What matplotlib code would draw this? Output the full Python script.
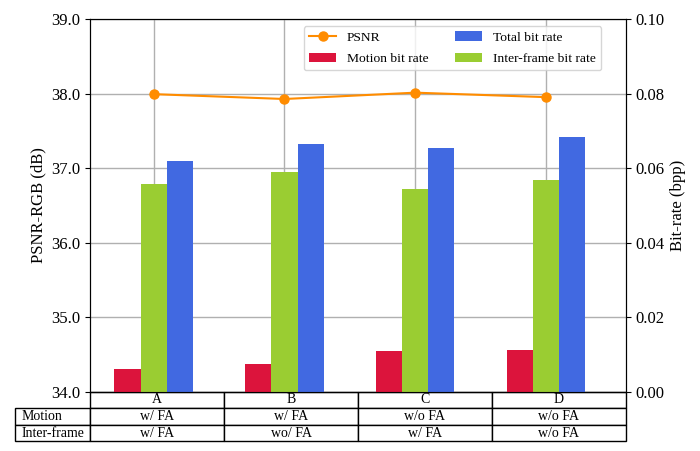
#!/usr/bin/env python3

import matplotlib
matplotlib.use("Agg")
import matplotlib.pyplot as plt
import numpy as np

plt.rcParams['font.family'] = ['Liberation Serif', 'DejaVu Serif']

# data
methods = ['A', 'B', 'C', 'D']
psnr = [37.995, 37.93, 38.015, 37.955]
motion_rate = [0.0061, 0.0075, 0.0110, 0.0113]
inter_rate = [0.0558, 0.0590, 0.0544, 0.0568]
total_rate = [0.0619, 0.0665, 0.0654, 0.0684]

row_names = ['Motion', 'Inter-frame']
motion_fa = ['w/ FA', 'w/ FA', 'w/o FA', 'w/o FA']
inter_fa = ['w/ FA', 'wo/ FA', 'w/ FA', 'w/o FA']

fig = plt.figure(figsize=(7, 4.51), dpi=100)
ax = fig.add_axes([0.129, 0.1315, 0.7649, 0.8257])
ax2 = ax.twinx()

x = np.arange(len(methods))
w = 0.2

line, = ax.plot(x, psnr, color='darkorange', marker='o', markersize=6.5,
                linewidth=1.5, label='PSNR')
b1 = ax2.bar(x - w, motion_rate, w, color='crimson', label='Motion bit rate')
b2 = ax2.bar(x, inter_rate, w, color='yellowgreen', label='Inter-frame bit rate')
b3 = ax2.bar(x + w, total_rate, w, color='royalblue', label='Total bit rate')

ax.set_xlim(-0.485, 3.61)
ax.set_ylim(34.0, 39.0)
ax2.set_ylim(0.0, 0.10)
ax.set_yticks(np.arange(34, 39.5, 1.0))
ax2.set_yticks(np.arange(0, 0.101, 0.02))
ax.yaxis.set_major_formatter(matplotlib.ticker.FormatStrFormatter('%.1f'))
ax2.yaxis.set_major_formatter(matplotlib.ticker.FormatStrFormatter('%.2f'))
ax.tick_params(axis='y', labelsize=12)
ax2.tick_params(axis='y', labelsize=12)
ax.set_xticks(x)
ax.set_xticklabels([])
ax.tick_params(axis='x', length=0)
ax.grid(True, color='#b0b0b0', linewidth=1)
ax.set_axisbelow(True)

ax.set_ylabel('PSNR-RGB (dB)', fontsize=12)
ax2.set_ylabel('Bit-rate (bpp)', fontsize=12)

ax2.legend([line, b1, b3, b2],
           ['PSNR', 'Motion bit rate', 'Total bit rate', 'Inter-frame bit rate'],
           ncol=2, loc='upper right', bbox_to_anchor=(0.967, 1.0),
           fontsize=9.7, labelspacing=0.65)

# table under the axes
cells = [[''] + methods,
         [row_names[0]] + motion_fa,
         [row_names[1]] + inter_fa]
lab_w = 0.1406
tab = ax.table(cellText=cells, colWidths=[lab_w, 0.25, 0.25, 0.25, 0.25],
               cellLoc='center', bbox=[-lab_w, -0.1334, 1 + lab_w, 0.1334])
tab.auto_set_font_size(False)
tab.set_fontsize(10)
tab[0, 0].visible_edges = ''
for r in (1, 2):
    tab[r, 0].get_text().set_horizontalalignment('left')
    tab[r, 0].PAD = 0.08

fig.savefig('out.png')
